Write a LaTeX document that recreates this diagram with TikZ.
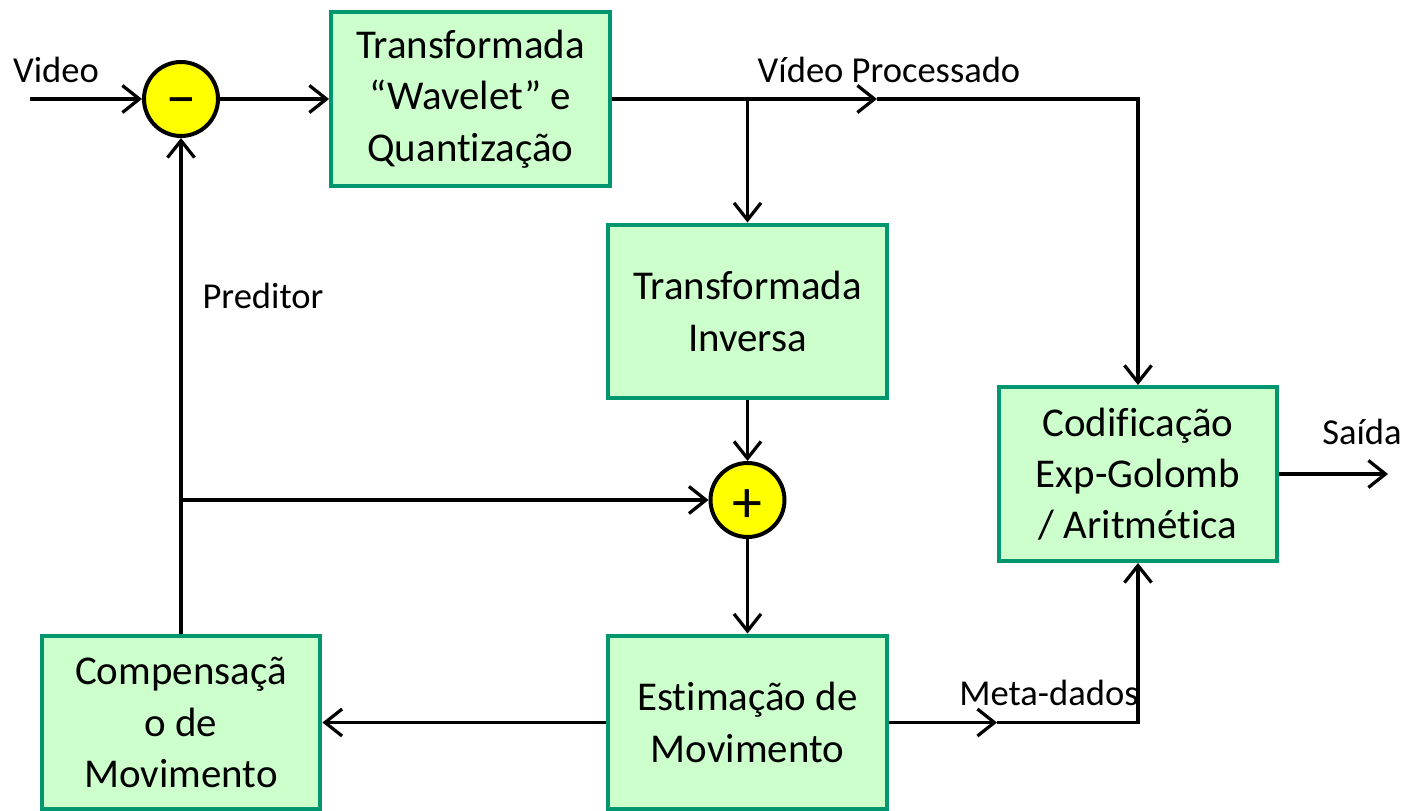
\documentclass[tikz,border=0pt]{standalone}
\usepackage{fontspec}
\setmainfont{Carlito}[Ligatures=NoCommon]
\usetikzlibrary{arrows.meta}
\definecolor{bord}{RGB}{0,150,110}
\definecolor{boxfill}{RGB}{204,255,204}
\definecolor{sumfill}{RGB}{255,255,0}
\begin{document}
\begin{tikzpicture}[x=0.02cm,y=-0.02cm,
  blockbox/.style={draw=bord, fill=boxfill, line width=0.08cm, minimum width=5.58cm, minimum height=3.48cm, align=center, font=\fontsize{23.3pt}{29.2pt}\selectfont, inner sep=0pt},
  sumnode/.style={circle, draw=black, fill=sumfill, line width=0.08cm, minimum size=1.48cm, inner sep=0pt, font=\fontsize{34pt}{36pt}\selectfont},
  conn/.style={line width=0.065cm},
  arr/.style={conn, -{Straight Barb[length=0.34cm,width=0.54cm]}},
  lbl/.style={font=\fontsize{20.8pt}{24pt}\selectfont, inner sep=0pt}]
\useasboundingbox (0,0) rectangle (1406,811);
% blocks
\node[blockbox] (T1) at (470.5,99) {Transformada\\“Wavelet” e\\Quantização};
\node[blockbox] (TI) at (747.5,311.5) {Transformada\\Inversa};
\node[blockbox] (CD) at (1138,474) {Codificação\\Exp-Golomb\\/ Aritmética};
\node[blockbox] (CM) at (181,722.5) {Compensaçã\\o de\\Movimento};
\node[blockbox] (EM) at (747.5,722.5) {Estimação de\\Movimento};
\node[sumnode] (S1) at (181,99) {\smash{\raisebox{-0.32em}{−}}};
\node[sumnode] (S2) at (747.5,500) {\smash{\raisebox{-0.38em}{+}}};
% coordinates
\coordinate (vin) at (30,99);
\coordinate (br1) at (747.5,99);
\coordinate (vp) at (877,99);
\coordinate (md) at (997,722.5);
\coordinate (out) at (1388,474);
\coordinate (br2) at (181,500);
% connectors
\draw[arr] (vin) -- (S1);
\draw[arr] (S1) -- (T1);
\draw[arr] (T1.east) -- (vp);
\draw[arr] (vp) -| (CD.north);
\draw[arr] (br1) -- (TI.north);
\draw[arr] (TI.south) -- (S2.north);
\draw[arr] (S2.south) -- (EM.north);
\draw[arr] (EM.west) -- (CM.east);
\draw[arr] (EM.east) -- (md);
\draw[arr] (md) -| (CD.south);
\draw[arr] (CD.east) -- (out);
\draw[arr] (CM.north) -- (S1.south);
\draw[arr] (br2) -- (S2.west);
% labels
\node[lbl] (lv) at (56,70) {Video};
\node[lbl] (lvp) at (889,70) {Vídeo Processado};
\node[lbl] (lp) at (263,296) {Preditor};
\node[lbl] (lm) at (1049,693) {Meta-dados};
\node[lbl] (ls) at (1362,432) {Saída};
\end{tikzpicture}
\end{document}
